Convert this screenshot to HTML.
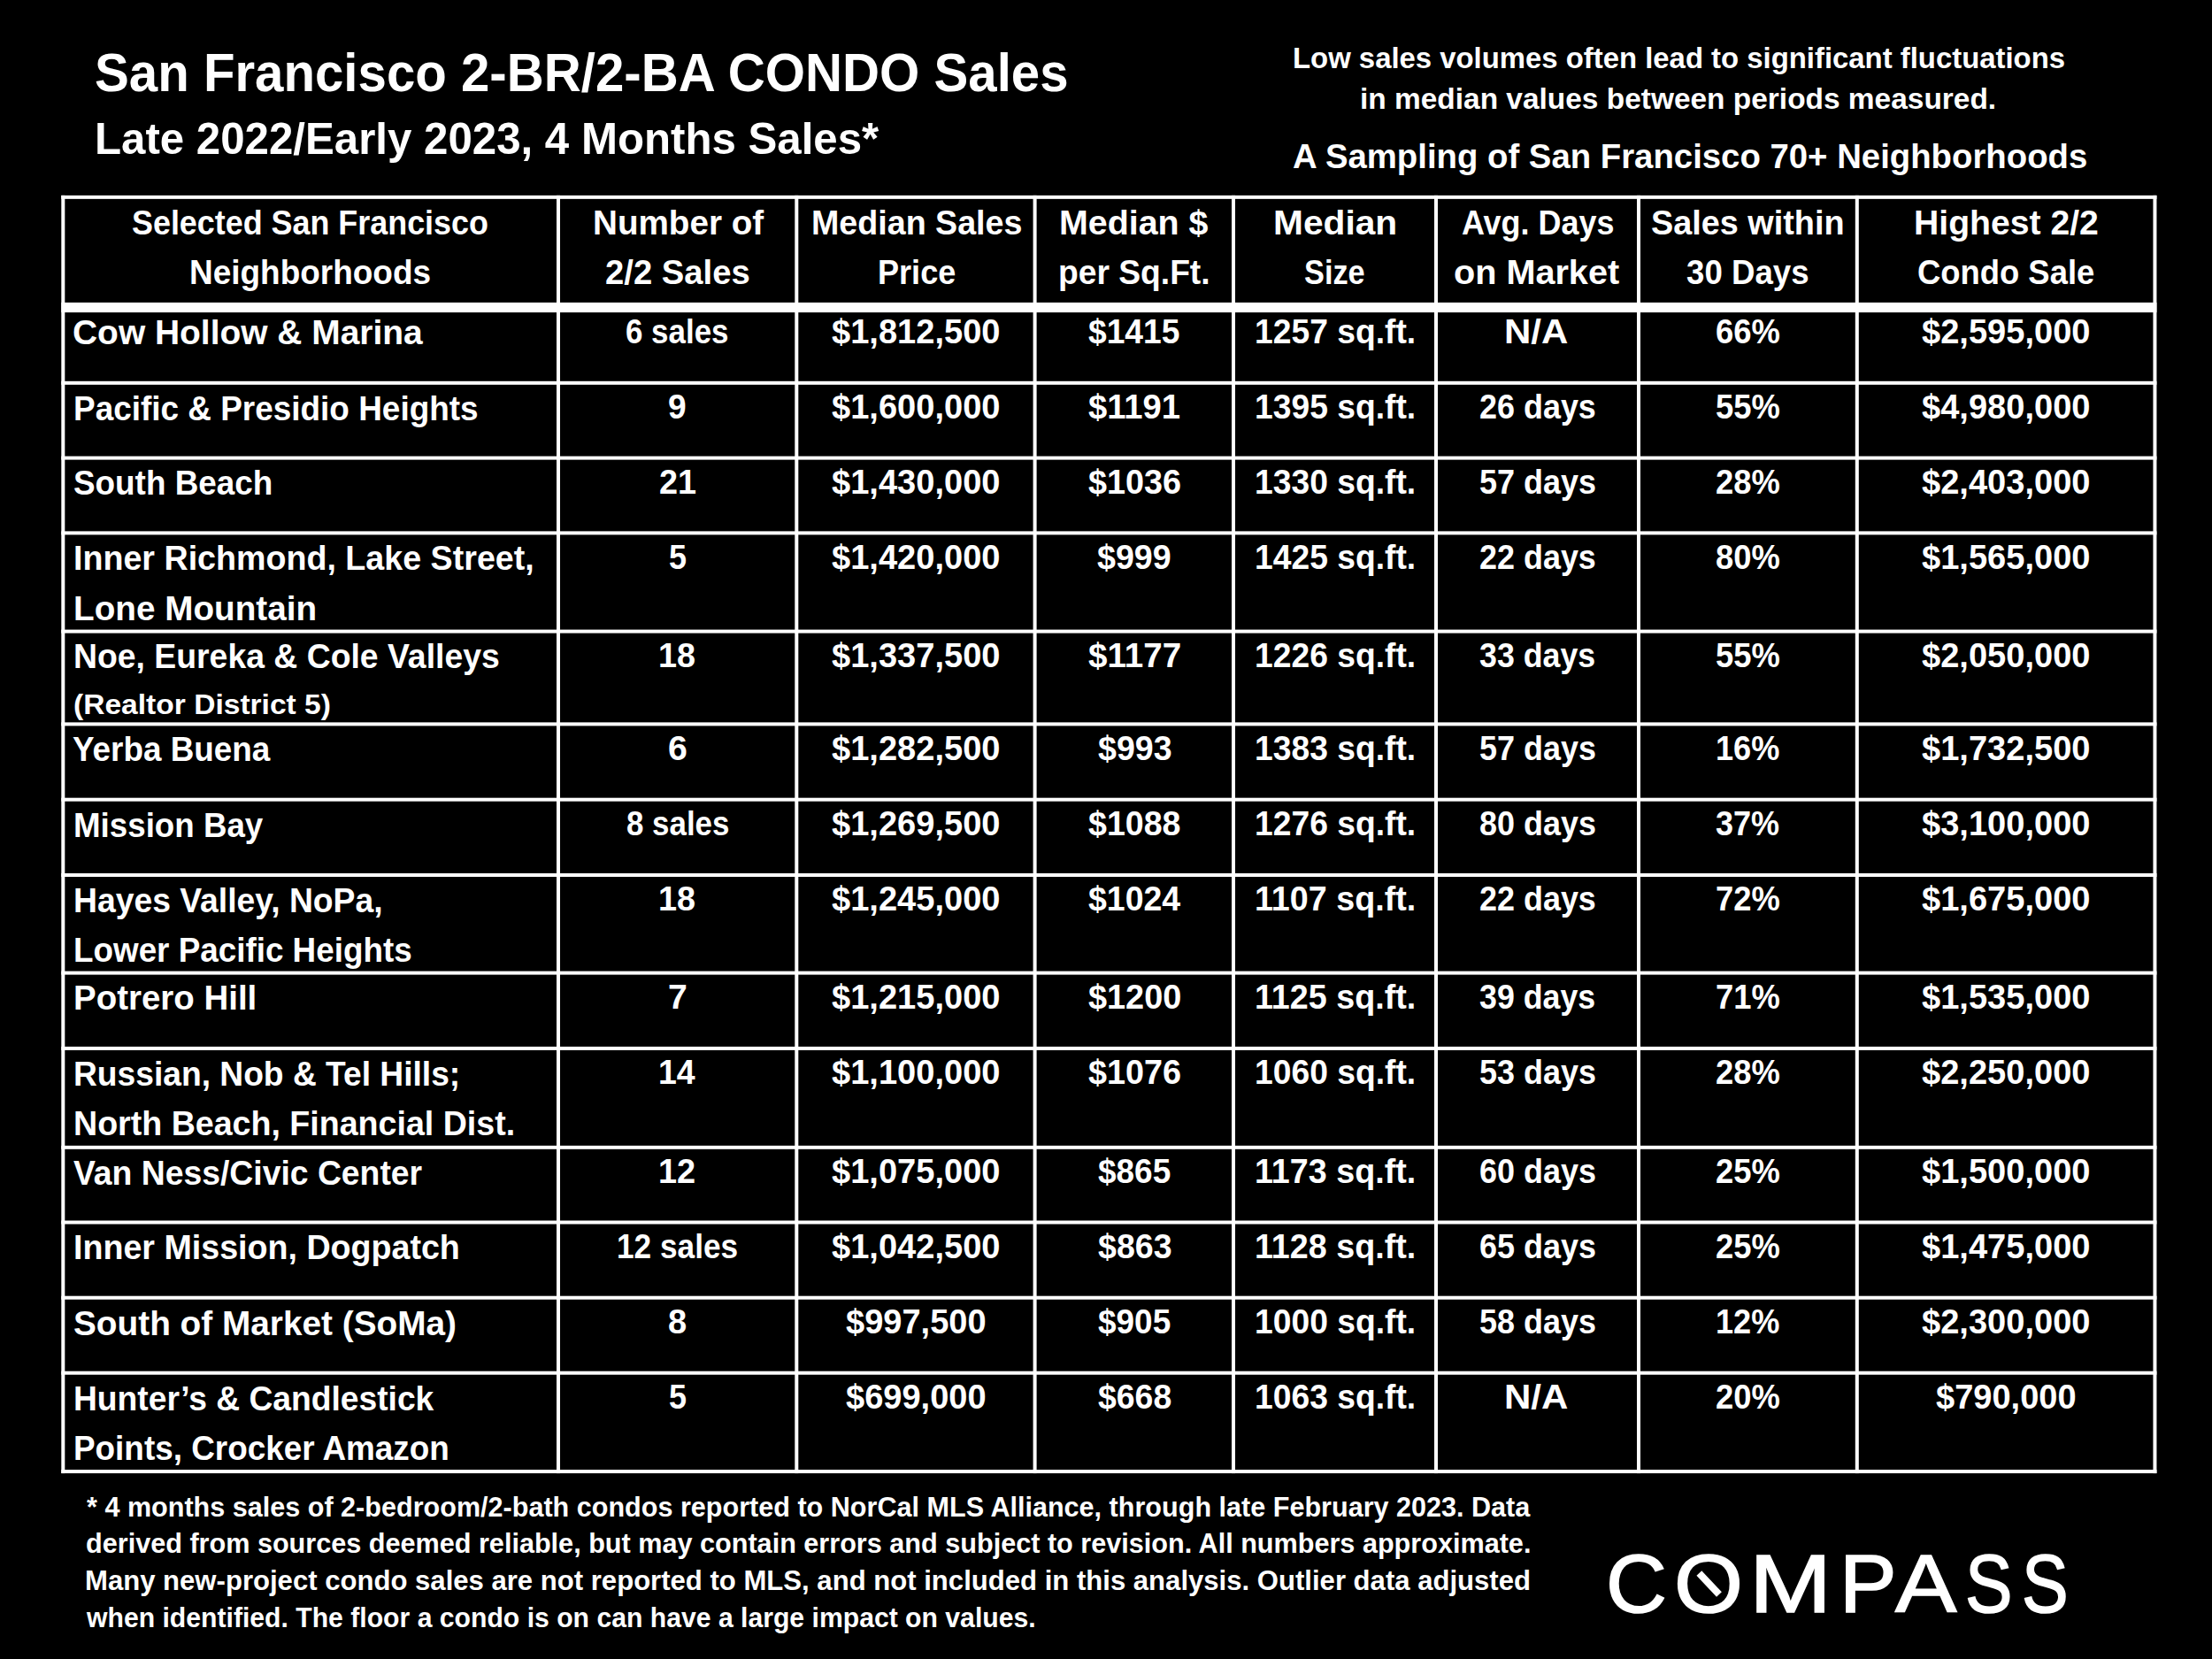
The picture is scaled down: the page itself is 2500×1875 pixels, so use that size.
<!DOCTYPE html>
<html lang="en"><head><meta charset="utf-8"><title>San Francisco 2-BR/2-BA CONDO Sales</title>
<style>
html,body{margin:0;padding:0;background:#000;}
body{width:2500px;height:1875px;overflow:hidden;position:relative;font-family:"Liberation Sans",Arial,sans-serif;color:#fff;}
#page{position:absolute;left:0;top:0;width:2500px;height:1875px;background:#000;overflow:hidden;}
.grid{position:absolute;left:0;top:0;}
.t{position:absolute;white-space:pre;line-height:1;font-weight:bold;transform-origin:0 0;color:#fff;}
.lg{position:absolute;top:1744.28px;font-size:93.00px;line-height:1;font-weight:normal;transform-origin:0 0;-webkit-text-stroke:1.6px #fff;color:#fff;}
.needle{position:absolute;left:1914.8px;top:1786.35px;width:33px;height:8.4px;background:#fff;transform:rotate(46.8deg);}
</style></head>
<body><div id="page">
<svg class="grid" width="2500" height="1875" viewBox="0 0 2500 1875" fill="#fff">
<rect x="69.30" y="220.85" width="2368.15" height="4.00"/>
<rect x="69.30" y="341.90" width="2368.15" height="11.20"/>
<rect x="69.30" y="430.80" width="2368.15" height="4.00"/>
<rect x="69.30" y="515.60" width="2368.15" height="4.00"/>
<rect x="69.30" y="600.40" width="2368.15" height="4.00"/>
<rect x="69.30" y="711.60" width="2368.15" height="4.00"/>
<rect x="69.30" y="816.40" width="2368.15" height="4.00"/>
<rect x="69.30" y="901.70" width="2368.15" height="4.00"/>
<rect x="69.30" y="987.00" width="2368.15" height="4.00"/>
<rect x="69.30" y="1097.60" width="2368.15" height="4.00"/>
<rect x="69.30" y="1182.90" width="2368.15" height="4.00"/>
<rect x="69.30" y="1294.80" width="2368.15" height="4.00"/>
<rect x="69.30" y="1379.50" width="2368.15" height="4.00"/>
<rect x="69.30" y="1464.70" width="2368.15" height="4.00"/>
<rect x="69.30" y="1549.70" width="2368.15" height="4.00"/>
<rect x="69.30" y="1661.10" width="2368.15" height="4.00"/>
<rect x="69.30" y="220.85" width="4.00" height="1444.25"/>
<rect x="629.00" y="220.85" width="4.00" height="1444.25"/>
<rect x="898.30" y="220.85" width="4.00" height="1444.25"/>
<rect x="1167.60" y="220.85" width="4.00" height="1444.25"/>
<rect x="1392.00" y="220.85" width="4.00" height="1444.25"/>
<rect x="1621.00" y="220.85" width="4.00" height="1444.25"/>
<rect x="1850.00" y="220.85" width="4.00" height="1444.25"/>
<rect x="2096.80" y="220.85" width="4.00" height="1444.25"/>
<rect x="2433.45" y="220.85" width="4.00" height="1444.25"/>
</svg>
<div class="titles">
<div class="t" style="left:106.65px;top:52.36px;font-size:61.00px;transform:scaleX(0.9540)">San Francisco 2-BR/2-BA CONDO Sales</div>
<div class="t" style="left:106.88px;top:131.88px;font-size:50.00px;transform:scaleX(0.9842)">Late 2022/Early 2023, 4 Months Sales*</div>
<div class="t" style="left:1460.58px;top:49.01px;font-size:33.30px;transform:scaleX(0.9872)">Low sales volumes often lead to significant fluctuations</div>
<div class="t" style="left:1537.46px;top:95.21px;font-size:33.30px;transform:scaleX(1.0042)">in median values between periods measured.</div>
<div class="t" style="left:1461.44px;top:157.39px;font-size:39.00px;transform:scaleX(0.9827)">A Sampling of San Francisco 70+ Neighborhoods</div>
</div>
<div class="thead">
<div class="t" style="left:149.42px;top:232.53px;font-size:38.00px;transform:scaleX(0.9444)">Selected San Francisco</div>
<div class="t" style="left:214.16px;top:289.03px;font-size:38.00px;transform:scaleX(0.9724)">Neighborhoods</div>
<div class="t" style="left:669.59px;top:232.53px;font-size:38.00px;transform:scaleX(1.0169)">Number of</div>
<div class="t" style="left:684.21px;top:289.03px;font-size:38.00px;transform:scaleX(1.0063)">2/2 Sales</div>
<div class="t" style="left:916.66px;top:232.53px;font-size:38.00px;transform:scaleX(0.9901)">Median Sales</div>
<div class="t" style="left:991.61px;top:289.03px;font-size:38.00px;transform:scaleX(0.9494)">Price</div>
<div class="t" style="left:1196.54px;top:232.53px;font-size:38.00px;transform:scaleX(1.0357)">Median $</div>
<div class="t" style="left:1196.08px;top:289.03px;font-size:38.00px;transform:scaleX(0.9792)">per Sq.Ft.</div>
<div class="t" style="left:1438.65px;top:232.53px;font-size:38.00px;transform:scaleX(1.0709)">Median</div>
<div class="t" style="left:1474.22px;top:289.03px;font-size:38.00px;transform:scaleX(0.9032)">Size</div>
<div class="t" style="left:1651.60px;top:232.53px;font-size:38.00px;transform:scaleX(0.9453)">Avg. Days</div>
<div class="t" style="left:1643.42px;top:289.03px;font-size:38.00px;transform:scaleX(1.0425)">on Market</div>
<div class="t" style="left:1866.37px;top:232.53px;font-size:38.00px;transform:scaleX(0.9948)">Sales within</div>
<div class="t" style="left:1906.48px;top:289.03px;font-size:38.00px;transform:scaleX(0.9641)">30 Days</div>
<div class="t" style="left:2162.68px;top:232.53px;font-size:38.00px;transform:scaleX(1.0300)">Highest 2/2</div>
<div class="t" style="left:2166.87px;top:289.03px;font-size:38.00px;transform:scaleX(0.9581)">Condo Sale</div>
</div>
<div class="tbody">
<div class="row">
<div class="t" style="left:82.38px;top:357.33px;font-size:38.00px;transform:scaleX(1.0242)">Cow Hollow &amp; Marina</div>
<div class="t" style="left:707.49px;top:355.83px;font-size:38.00px;transform:scaleX(0.9185)">6 sales</div>
<div class="t" style="left:940.25px;top:355.83px;font-size:38.00px;transform:scaleX(1.0014)">$1,812,500</div>
<div class="t" style="left:1230.40px;top:355.83px;font-size:38.00px;transform:scaleX(0.9784)">$1415</div>
<div class="t" style="left:1417.55px;top:355.83px;font-size:38.00px;transform:scaleX(0.9799)">1257 sq.ft.</div>
<div class="t" style="left:1700.48px;top:355.83px;font-size:38.00px;transform:scaleX(1.1054)">N/A</div>
<div class="t" style="left:1938.75px;top:355.83px;font-size:38.00px;transform:scaleX(0.9584)">66%</div>
<div class="t" style="left:2172.42px;top:355.83px;font-size:38.00px;transform:scaleX(1.0014)">$2,595,000</div>
</div>
<div class="row">
<div class="t" style="left:82.90px;top:442.63px;font-size:38.00px;transform:scaleX(0.9717)">Pacific &amp; Presidio Heights</div>
<div class="t" style="left:755.35px;top:441.13px;font-size:38.00px;transform:scaleX(0.9771)">9</div>
<div class="t" style="left:940.25px;top:441.13px;font-size:38.00px;transform:scaleX(1.0014)">$1,600,000</div>
<div class="t" style="left:1230.07px;top:441.13px;font-size:38.00px;transform:scaleX(1.0046)">$1191</div>
<div class="t" style="left:1417.55px;top:441.13px;font-size:38.00px;transform:scaleX(0.9799)">1395 sq.ft.</div>
<div class="t" style="left:1671.70px;top:441.13px;font-size:38.00px;transform:scaleX(0.9456)">26 days</div>
<div class="t" style="left:1938.88px;top:441.13px;font-size:38.00px;transform:scaleX(0.9574)">55%</div>
<div class="t" style="left:2172.42px;top:441.13px;font-size:38.00px;transform:scaleX(1.0014)">$4,980,000</div>
</div>
<div class="row">
<div class="t" style="left:82.83px;top:527.43px;font-size:38.00px;transform:scaleX(0.9699)">South Beach</div>
<div class="t" style="left:744.54px;top:525.93px;font-size:38.00px;transform:scaleX(0.9942)">21</div>
<div class="t" style="left:940.25px;top:525.93px;font-size:38.00px;transform:scaleX(1.0014)">$1,430,000</div>
<div class="t" style="left:1229.77px;top:525.93px;font-size:38.00px;transform:scaleX(0.9932)">$1036</div>
<div class="t" style="left:1417.55px;top:525.93px;font-size:38.00px;transform:scaleX(0.9799)">1330 sq.ft.</div>
<div class="t" style="left:1671.73px;top:525.93px;font-size:38.00px;transform:scaleX(0.9457)">57 days</div>
<div class="t" style="left:1938.84px;top:525.93px;font-size:38.00px;transform:scaleX(0.9572)">28%</div>
<div class="t" style="left:2172.42px;top:525.93px;font-size:38.00px;transform:scaleX(1.0014)">$2,403,000</div>
</div>
<div class="row">
<div class="t" style="left:83.48px;top:612.23px;font-size:38.00px;transform:scaleX(0.9904)">Inner Richmond, Lake Street,</div>
<div class="t" style="left:82.68px;top:668.73px;font-size:38.00px;transform:scaleX(1.0180)">Lone Mountain</div>
<div class="t" style="left:755.58px;top:610.73px;font-size:38.00px;transform:scaleX(0.9462)">5</div>
<div class="t" style="left:940.25px;top:610.73px;font-size:38.00px;transform:scaleX(1.0014)">$1,420,000</div>
<div class="t" style="left:1240.39px;top:610.73px;font-size:38.00px;transform:scaleX(0.9906)">$999</div>
<div class="t" style="left:1417.55px;top:610.73px;font-size:38.00px;transform:scaleX(0.9799)">1425 sq.ft.</div>
<div class="t" style="left:1671.70px;top:610.73px;font-size:38.00px;transform:scaleX(0.9456)">22 days</div>
<div class="t" style="left:1938.88px;top:610.73px;font-size:38.00px;transform:scaleX(0.9574)">80%</div>
<div class="t" style="left:2172.42px;top:610.73px;font-size:38.00px;transform:scaleX(1.0014)">$1,565,000</div>
</div>
<div class="row">
<div class="t" style="left:83.08px;top:723.43px;font-size:38.00px;transform:scaleX(0.9831)">Noe, Eureka &amp; Cole Valleys</div>
<div class="t" style="left:83.45px;top:780.58px;font-size:30.50px;transform:scaleX(1.1005)">(Realtor District 5)</div>
<div class="t" style="left:744.08px;top:721.93px;font-size:38.00px;transform:scaleX(0.9938)">18</div>
<div class="t" style="left:940.25px;top:721.93px;font-size:38.00px;transform:scaleX(1.0014)">$1,337,500</div>
<div class="t" style="left:1229.86px;top:721.93px;font-size:38.00px;transform:scaleX(1.0144)">$1177</div>
<div class="t" style="left:1417.55px;top:721.93px;font-size:38.00px;transform:scaleX(0.9799)">1226 sq.ft.</div>
<div class="t" style="left:1672.26px;top:721.93px;font-size:38.00px;transform:scaleX(0.9408)">33 days</div>
<div class="t" style="left:1938.88px;top:721.93px;font-size:38.00px;transform:scaleX(0.9574)">55%</div>
<div class="t" style="left:2172.42px;top:721.93px;font-size:38.00px;transform:scaleX(1.0014)">$2,050,000</div>
</div>
<div class="row">
<div class="t" style="left:82.25px;top:828.23px;font-size:38.00px;transform:scaleX(0.9700)">Yerba Buena</div>
<div class="t" style="left:754.70px;top:826.73px;font-size:38.00px;transform:scaleX(1.0335)">6</div>
<div class="t" style="left:940.25px;top:826.73px;font-size:38.00px;transform:scaleX(1.0014)">$1,282,500</div>
<div class="t" style="left:1240.50px;top:826.73px;font-size:38.00px;transform:scaleX(0.9881)">$993</div>
<div class="t" style="left:1417.55px;top:826.73px;font-size:38.00px;transform:scaleX(0.9799)">1383 sq.ft.</div>
<div class="t" style="left:1671.73px;top:826.73px;font-size:38.00px;transform:scaleX(0.9457)">57 days</div>
<div class="t" style="left:1938.59px;top:826.73px;font-size:38.00px;transform:scaleX(0.9508)">16%</div>
<div class="t" style="left:2172.42px;top:826.73px;font-size:38.00px;transform:scaleX(1.0014)">$1,732,500</div>
</div>
<div class="row">
<div class="t" style="left:83.43px;top:913.53px;font-size:38.00px;transform:scaleX(0.9663)">Mission Bay</div>
<div class="t" style="left:707.61px;top:912.03px;font-size:38.00px;transform:scaleX(0.9180)">8 sales</div>
<div class="t" style="left:940.25px;top:912.03px;font-size:38.00px;transform:scaleX(1.0014)">$1,269,500</div>
<div class="t" style="left:1229.92px;top:912.03px;font-size:38.00px;transform:scaleX(0.9883)">$1088</div>
<div class="t" style="left:1417.55px;top:912.03px;font-size:38.00px;transform:scaleX(0.9799)">1276 sq.ft.</div>
<div class="t" style="left:1671.73px;top:912.03px;font-size:38.00px;transform:scaleX(0.9457)">80 days</div>
<div class="t" style="left:1939.41px;top:912.03px;font-size:38.00px;transform:scaleX(0.9483)">37%</div>
<div class="t" style="left:2172.42px;top:912.03px;font-size:38.00px;transform:scaleX(1.0014)">$3,100,000</div>
</div>
<div class="row">
<div class="t" style="left:82.88px;top:998.83px;font-size:38.00px;transform:scaleX(0.9812)">Hayes Valley, NoPa,</div>
<div class="t" style="left:82.80px;top:1055.33px;font-size:38.00px;transform:scaleX(0.9690)">Lower Pacific Heights</div>
<div class="t" style="left:744.08px;top:997.33px;font-size:38.00px;transform:scaleX(0.9938)">18</div>
<div class="t" style="left:940.25px;top:997.33px;font-size:38.00px;transform:scaleX(1.0014)">$1,245,000</div>
<div class="t" style="left:1229.61px;top:997.33px;font-size:38.00px;transform:scaleX(0.9854)">$1024</div>
<div class="t" style="left:1417.52px;top:997.33px;font-size:38.00px;transform:scaleX(0.9914)">1107 sq.ft.</div>
<div class="t" style="left:1671.70px;top:997.33px;font-size:38.00px;transform:scaleX(0.9456)">22 days</div>
<div class="t" style="left:1938.73px;top:997.33px;font-size:38.00px;transform:scaleX(0.9566)">72%</div>
<div class="t" style="left:2172.42px;top:997.33px;font-size:38.00px;transform:scaleX(1.0014)">$1,675,000</div>
</div>
<div class="row">
<div class="t" style="left:82.80px;top:1109.43px;font-size:38.00px;transform:scaleX(1.0121)">Potrero Hill</div>
<div class="t" style="left:754.77px;top:1107.93px;font-size:38.00px;transform:scaleX(1.0317)">7</div>
<div class="t" style="left:940.25px;top:1107.93px;font-size:38.00px;transform:scaleX(1.0014)">$1,215,000</div>
<div class="t" style="left:1229.71px;top:1107.93px;font-size:38.00px;transform:scaleX(0.9960)">$1200</div>
<div class="t" style="left:1417.52px;top:1107.93px;font-size:38.00px;transform:scaleX(0.9914)">1125 sq.ft.</div>
<div class="t" style="left:1672.26px;top:1107.93px;font-size:38.00px;transform:scaleX(0.9408)">39 days</div>
<div class="t" style="left:1938.73px;top:1107.93px;font-size:38.00px;transform:scaleX(0.9566)">71%</div>
<div class="t" style="left:2172.42px;top:1107.93px;font-size:38.00px;transform:scaleX(1.0014)">$1,535,000</div>
</div>
<div class="row">
<div class="t" style="left:82.99px;top:1194.73px;font-size:38.00px;transform:scaleX(0.9784)">Russian, Nob &amp; Tel Hills;</div>
<div class="t" style="left:83.06px;top:1251.23px;font-size:38.00px;transform:scaleX(0.9890)">North Beach, Financial Dist.</div>
<div class="t" style="left:743.78px;top:1193.23px;font-size:38.00px;transform:scaleX(0.9858)">14</div>
<div class="t" style="left:940.25px;top:1193.23px;font-size:38.00px;transform:scaleX(1.0014)">$1,100,000</div>
<div class="t" style="left:1229.77px;top:1193.23px;font-size:38.00px;transform:scaleX(0.9932)">$1076</div>
<div class="t" style="left:1417.55px;top:1193.23px;font-size:38.00px;transform:scaleX(0.9799)">1060 sq.ft.</div>
<div class="t" style="left:1671.73px;top:1193.23px;font-size:38.00px;transform:scaleX(0.9457)">53 days</div>
<div class="t" style="left:1938.84px;top:1193.23px;font-size:38.00px;transform:scaleX(0.9572)">28%</div>
<div class="t" style="left:2172.42px;top:1193.23px;font-size:38.00px;transform:scaleX(1.0014)">$2,250,000</div>
</div>
<div class="row">
<div class="t" style="left:82.92px;top:1306.63px;font-size:38.00px;transform:scaleX(0.9820)">Van Ness/Civic Center</div>
<div class="t" style="left:744.17px;top:1305.13px;font-size:38.00px;transform:scaleX(0.9981)">12</div>
<div class="t" style="left:940.25px;top:1305.13px;font-size:38.00px;transform:scaleX(1.0014)">$1,075,000</div>
<div class="t" style="left:1241.03px;top:1305.13px;font-size:38.00px;transform:scaleX(0.9720)">$865</div>
<div class="t" style="left:1417.52px;top:1305.13px;font-size:38.00px;transform:scaleX(0.9914)">1173 sq.ft.</div>
<div class="t" style="left:1671.61px;top:1305.13px;font-size:38.00px;transform:scaleX(0.9463)">60 days</div>
<div class="t" style="left:1938.84px;top:1305.13px;font-size:38.00px;transform:scaleX(0.9572)">25%</div>
<div class="t" style="left:2172.42px;top:1305.13px;font-size:38.00px;transform:scaleX(1.0014)">$1,500,000</div>
</div>
<div class="row">
<div class="t" style="left:83.48px;top:1391.33px;font-size:38.00px;transform:scaleX(0.9900)">Inner Mission, Dogpatch</div>
<div class="t" style="left:696.71px;top:1389.83px;font-size:38.00px;transform:scaleX(0.9269)">12 sales</div>
<div class="t" style="left:940.25px;top:1389.83px;font-size:38.00px;transform:scaleX(1.0014)">$1,042,500</div>
<div class="t" style="left:1240.50px;top:1389.83px;font-size:38.00px;transform:scaleX(0.9881)">$863</div>
<div class="t" style="left:1417.52px;top:1389.83px;font-size:38.00px;transform:scaleX(0.9914)">1128 sq.ft.</div>
<div class="t" style="left:1671.61px;top:1389.83px;font-size:38.00px;transform:scaleX(0.9463)">65 days</div>
<div class="t" style="left:1938.84px;top:1389.83px;font-size:38.00px;transform:scaleX(0.9572)">25%</div>
<div class="t" style="left:2172.42px;top:1389.83px;font-size:38.00px;transform:scaleX(1.0014)">$1,475,000</div>
</div>
<div class="row">
<div class="t" style="left:82.77px;top:1476.53px;font-size:38.00px;transform:scaleX(1.0203)">South of Market (SoMa)</div>
<div class="t" style="left:755.04px;top:1475.03px;font-size:38.00px;transform:scaleX(1.0014)">8</div>
<div class="t" style="left:956.21px;top:1475.03px;font-size:38.00px;transform:scaleX(1.0004)">$997,500</div>
<div class="t" style="left:1241.03px;top:1475.03px;font-size:38.00px;transform:scaleX(0.9720)">$905</div>
<div class="t" style="left:1417.55px;top:1475.03px;font-size:38.00px;transform:scaleX(0.9799)">1000 sq.ft.</div>
<div class="t" style="left:1671.73px;top:1475.03px;font-size:38.00px;transform:scaleX(0.9457)">58 days</div>
<div class="t" style="left:1938.59px;top:1475.03px;font-size:38.00px;transform:scaleX(0.9508)">12%</div>
<div class="t" style="left:2172.42px;top:1475.03px;font-size:38.00px;transform:scaleX(1.0014)">$2,300,000</div>
</div>
<div class="row">
<div class="t" style="left:82.88px;top:1561.53px;font-size:38.00px;transform:scaleX(0.9791)">Hunter’s &amp; Candlestick</div>
<div class="t" style="left:82.90px;top:1618.03px;font-size:38.00px;transform:scaleX(0.9704)">Points, Crocker Amazon</div>
<div class="t" style="left:755.58px;top:1560.03px;font-size:38.00px;transform:scaleX(0.9462)">5</div>
<div class="t" style="left:956.21px;top:1560.03px;font-size:38.00px;transform:scaleX(1.0004)">$699,000</div>
<div class="t" style="left:1240.55px;top:1560.03px;font-size:38.00px;transform:scaleX(0.9845)">$668</div>
<div class="t" style="left:1417.55px;top:1560.03px;font-size:38.00px;transform:scaleX(0.9799)">1063 sq.ft.</div>
<div class="t" style="left:1700.48px;top:1560.03px;font-size:38.00px;transform:scaleX(1.1054)">N/A</div>
<div class="t" style="left:1938.84px;top:1560.03px;font-size:38.00px;transform:scaleX(0.9572)">20%</div>
<div class="t" style="left:2188.39px;top:1560.03px;font-size:38.00px;transform:scaleX(1.0004)">$790,000</div>
</div>
</div>
<div class="foot">
<div class="t" style="left:97.92px;top:1687.98px;font-size:30.50px;transform:scaleX(1.0023)">* 4 months sales of 2-bedroom/2-bath condos reported to NorCal MLS Alliance, through late February 2023. Data</div>
<div class="t" style="left:96.78px;top:1729.08px;font-size:30.50px;transform:scaleX(1.0035)">derived from sources deemed reliable, but may contain errors and subject to revision. All numbers approximate.</div>
<div class="t" style="left:95.90px;top:1770.98px;font-size:30.50px;transform:scaleX(1.0192)">Many new-project condo sales are not reported to MLS, and not included in this analysis. Outlier data adjusted</div>
<div class="t" style="left:98.08px;top:1812.58px;font-size:30.50px;transform:scaleX(0.9889)">when identified. The floor a condo is on can have a large impact on values.</div>
</div>
<div class="logo"><span class="lg" style="left:1814.58px;transform:scaleX(1.0251)">C</span><span class="lg" style="left:1892.19px;transform:scaleX(1.0776)">O</span><span class="lg" style="left:1976.93px;transform:scaleX(1.2017)">M</span><span class="lg" style="left:2078.76px;transform:scaleX(1.0420)">P</span><span class="lg" style="left:2142.09px;transform:scaleX(1.1183)">A</span><span class="lg" style="left:2220.84px;transform:scaleX(0.8621)">S</span><span class="lg" style="left:2284.70px;transform:scaleX(0.8490)">S</span><i class="needle"></i></div>
</div></body></html>
